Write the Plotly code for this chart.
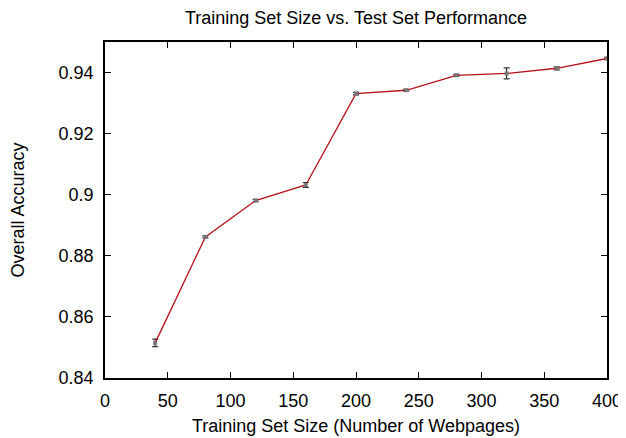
import plotly.graph_objects as go

train_size = [40, 80, 120, 160, 200, 240, 280, 320, 360, 400]
accuracy = [0.8515, 0.8862, 0.8981, 0.9032, 0.9331, 0.9342, 0.9391, 0.9397, 0.9414, 0.9446]
acc_err = [0.0012, 0.0003, 0.0004, 0.0008, 0.0004, 0.0003, 0.0003, 0.0018, 0.0005, 0.0004]

x_ticks = [0, 50, 100, 150, 200, 250, 300, 350, 400]
y_ticks = [0.84, 0.86, 0.88, 0.90, 0.92, 0.94]
y_tick_labels = ["0.84", "0.86", "0.88", "0.9", "0.92", "0.94"]

font_family = "Liberation Sans, Arial, Helvetica, sans-serif"

fig = go.Figure()
fig.add_trace(go.Scatter(
    x=train_size, y=accuracy,
    mode="lines+markers",
    line=dict(color="#b5121b", width=1.3),
    marker=dict(color="#777777", size=4, symbol="square"),
    error_y=dict(type="data", array=acc_err, visible=True,
                 color="#333333", thickness=1.2, width=3),
    showlegend=False,
    cliponaxis=True,
))

axis_common = dict(
    showline=True, linecolor="black", linewidth=1.5, mirror="ticks",
    ticks="inside", ticklen=6, tickwidth=1, tickcolor="black",
    showgrid=False, zeroline=False,
    tickfont=dict(family=font_family, size=18, color="black"),
)

# the page body adds an 8px margin; the figure is sized to fit the window
fig.update_layout(
    width=618, height=430,
    margin=dict(l=97, r=19, t=34, b=60, autoexpand=False),
    paper_bgcolor="white", plot_bgcolor="white",
    font=dict(family=font_family, color="black"),
    title=dict(text="Training Set Size vs. Test Set Performance",
               x=0.5, xref="paper", xanchor="center", y=1 - 10 / 430, yanchor="middle",
               font=dict(family=font_family, size=18, color="black")),
    xaxis=dict(range=[0, 400], tickvals=x_ticks, ticklabelstandoff=6,
               title=dict(text="Training Set Size (Number of Webpages)",
                          font=dict(family=font_family, size=18), standoff=9),
               **axis_common),
    yaxis=dict(range=[0.84, 0.95], tickvals=y_ticks, ticktext=y_tick_labels,
               ticklabelstandoff=6,
               title=dict(text="Overall Accuracy",
                          font=dict(family=font_family, size=18), standoff=31),
               **axis_common),
)

fig.write_html("out.html")
